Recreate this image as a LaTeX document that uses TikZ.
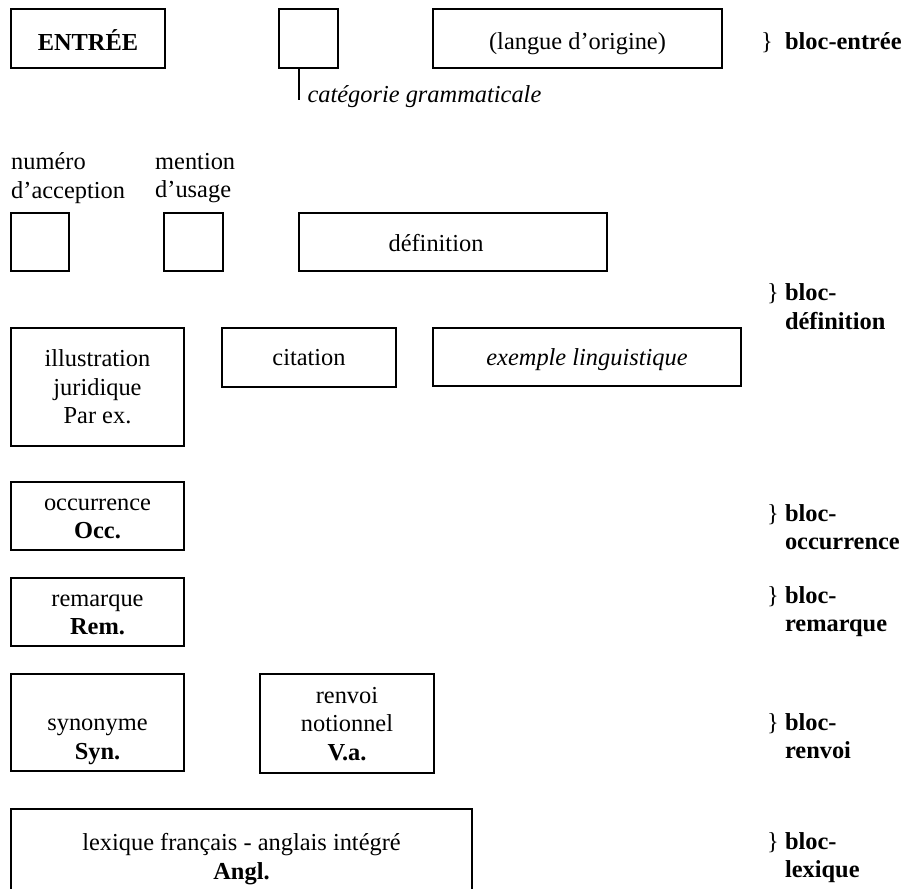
\documentclass[tikz,border=0pt]{standalone}
\usepackage{fontspec}
\setmainfont{Liberation Serif}
\newcommand{\wstrut}{\rule[-6pt]{0pt}{28.5pt}}
\newcommand{\tstrut}{\rule[-3pt]{0pt}{30pt}}
\begin{document}
\begin{tikzpicture}[x=1pt, y=-1pt, font=\fontsize{24.4}{28.5}\selectfont,
    mybox/.style={draw, line width=1.8pt, inner sep=0pt, align=center},
    mylabel/.style={anchor=west, inner sep=0pt, align=left}]
    \path[use as bounding box, clip] (0,0) rectangle (904,888);
    % bloc-entree
    \node[mybox, minimum width=154, minimum height=59] (entree) at (88,38.5) {\tstrut\textbf{ENTRÉE}};
    \node[mybox, minimum width=59, minimum height=59] (categ) at (308.5,38.5) {};
    \node[mybox, minimum width=289, minimum height=59] (langue) at (577.5,38.5) {\tstrut(langue d’origine)};
    \node[anchor=west] (cattxt) at (304,97) {\itshape catégorie grammaticale};
    \coordinate (catend) at (299,100);
    \draw[line width=1.4pt] ([xshift=-9.5]categ.south) -- (catend);
    \node[mylabel] (blocentree) at (761,43) {\}~~\textbf{bloc-entrée}};
    % bloc-definition
    \node[mylabel] (numtxt) at (11,178) {numéro\\d’acception};
    \node[mylabel] (usatxt) at (155,178) {mention\\d’usage};
    \node[mybox, minimum width=58, minimum height=58] (num) at (40,242) {};
    \node[mybox, minimum width=59, minimum height=58] (usage) at (193.5,242) {};
    \node[mybox, minimum width=308, minimum height=58] (def) at (453,242) {};
    \node (deftxt) at (436,243) {définition};
    \node[mybox, minimum width=173, minimum height=118] (illus) at (97.5,387) {\wstrut illustration\\juridique\\Par ex.\wstrut};
    \node[mybox, minimum width=174, minimum height=59] (citat) at (309,357.5) {\wstrut citation};
    \node[mybox, minimum width=308, minimum height=58] (exemple) at (587,357) {\wstrut\textit{exemple linguistique}};
    % autres blocs
    \node[mybox, minimum width=173, minimum height=68] (occ) at (97.5,516) {\wstrut occurrence\\\textbf{Occ.}\wstrut};
    \node[mybox, minimum width=173, minimum height=68] (rem) at (97.5,612) {\wstrut remarque\\\textbf{Rem.}\wstrut};
    \node[mybox, minimum width=173, minimum height=97] (syn) at (97.5,722.5) {\wstrut\\synonyme\\\textbf{Syn.}\wstrut};
    \node[mybox, minimum width=174, minimum height=99] (renv) at (347,723.5) {\wstrut renvoi\\notionnel\\\textbf{V.a.}\wstrut};
    \node[mybox, minimum width=461, minimum height=95] (lex) at (241.5,856.5) {\wstrut lexique français - anglais intégré\\\textbf{Angl.}\wstrut};
    \foreach \nm/\txt/\y in {def/définition/306.5, occ/occurrence/527, rem/remarque/611.5, renv/renvoi/736, lex/lexique/857.5}{
      \node[mylabel] (bloc\nm) at (767,\y) {\}~\textbf{bloc-}\\\hphantom{\}~}\textbf{\txt}};
    }
\end{tikzpicture}
\end{document}
